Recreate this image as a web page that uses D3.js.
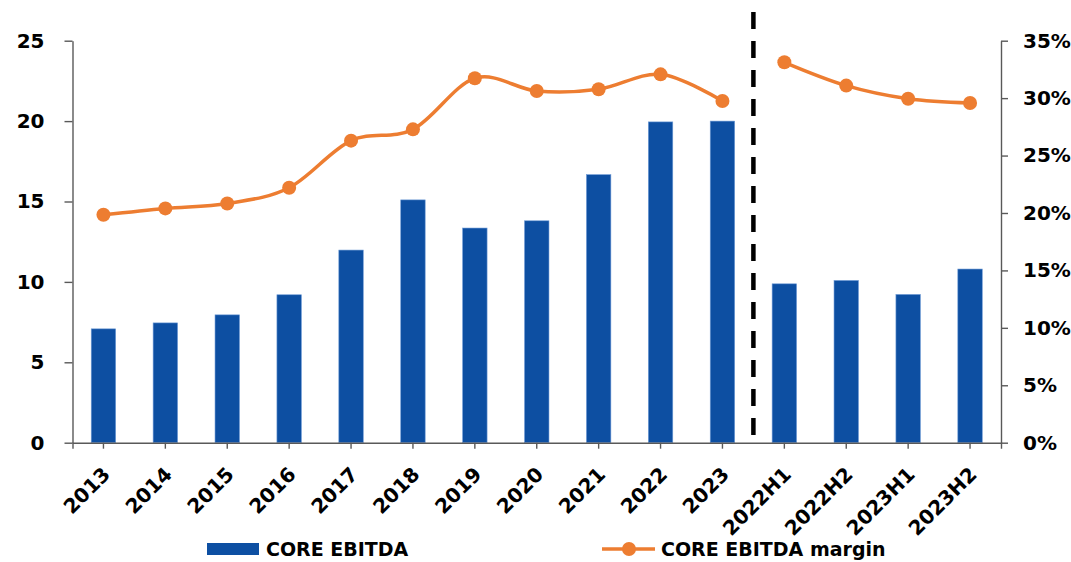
<!DOCTYPE html>
<html>
<head>
<meta charset="utf-8">
<script src="https://cdn.jsdelivr.net/npm/d3@7"></script>
<style>
  html, body { margin: 0; padding: 0; background: #fff; }
  svg { display: block; }
  text { font-family: "DejaVu Sans", sans-serif; font-weight: bold; fill: #000; }
</style>
</head>
<body>
<svg id="chart" width="1071" height="562"></svg>
<script>
// Periods: annual figures followed by half-year figures
const categories = ["2013", "2014", "2015", "2016", "2017", "2018", "2019", "2020",
  "2021", "2022", "2023", "2022H1", "2022H2", "2023H1", "2023H2"];
const annualCount = 11;

// Core EBITDA (left axis)
const coreEbitda = [7.08, 7.45, 7.95, 9.2, 11.98, 15.1, 13.35, 13.8,
  16.67, 19.95, 20.0, 9.88, 10.09, 9.22, 10.8];

// Core EBITDA margin, % (right axis)
const coreEbitdaMargin = [19.84, 20.4, 20.83, 22.2, 26.3, 27.28, 31.73, 30.62,
  30.77, 32.07, 29.75, 33.12, 31.09, 29.95, 29.58];

const leftTicks = [0, 5, 10, 15, 20, 25];
const rightTicks = [0, 5, 10, 15, 20, 25, 30, 35];
const legendLabels = ["CORE EBITDA", "CORE EBITDA margin"];

const barColor = "#0D4FA2";
const lineColor = "#ED7D31";
const axisColor = "#595959";

const svg = d3.select("#chart");
const plot = { left: 72.5, right: 1001, top: 40.7, bottom: 442.7 };

const x = d3.scaleBand()
  .domain(categories)
  .range([plot.left, plot.right])
  .paddingInner(0.605)
  .paddingOuter(0.3025);

const yLeft = d3.scaleLinear().domain([0, 25]).range([plot.bottom, plot.top]);
const yRight = d3.scaleLinear().domain([0, 35]).range([plot.bottom, plot.top]);

const cx = c => x(c) + x.bandwidth() / 2;

// Bars
svg.append("g")
  .selectAll("rect")
  .data(categories)
  .join("rect")
  .attr("x", c => x(c))
  .attr("y", (c, i) => yLeft(coreEbitda[i]))
  .attr("width", x.bandwidth())
  .attr("height", (c, i) => yLeft(0) - yLeft(coreEbitda[i]))
  .attr("fill", barColor)
  .attr("stroke", "#6f9bd6")
  .attr("stroke-width", 0.6);

// Axes
function styleAxis(g, size) {
  g.selectAll(".domain, .tick line").attr("stroke", axisColor).attr("stroke-width", 1.4);
  g.selectAll(".tick text")
    .attr("font-size", size)
    .attr("fill", "#000")
    .attr("font-family", "DejaVu Sans")
    .attr("font-weight", "bold");
}

svg.append("g")
  .attr("transform", `translate(${plot.left},0)`)
  .call(d3.axisLeft(yLeft).tickValues(leftTicks).tickSize(8).tickSizeOuter(0).tickPadding(20))
  .call(g => styleAxis(g, 20));

svg.append("g")
  .attr("transform", `translate(${plot.right},0)`)
  .call(d3.axisRight(yRight).tickValues(rightTicks).tickSize(7).tickSizeOuter(0).tickPadding(15)
    .tickFormat(d => d + "%"))
  .call(g => styleAxis(g, 20));

// Category labels, rotated and anchored at their end just below each tick
svg.append("g")
  .attr("transform", `translate(0,${plot.bottom})`)
  .call(d3.axisBottom(x).tickSize(6).tickSizeOuter(6).tickPadding(6))
  .call(g => styleAxis(g, 20))
  .call(g => g.selectAll(".tick text")
    .attr("y", 0)
    .attr("text-anchor", "end")
    .attr("dy", "0.35em")
    .attr("transform", "translate(3,28) rotate(-45)"));

// Divider between annual and half-year periods
const divX = (cx(categories[annualCount - 1]) + cx(categories[annualCount])) / 2;
svg.append("line")
  .attr("x1", divX).attr("x2", divX)
  .attr("y1", 12).attr("y2", plot.bottom)
  .attr("stroke", "#000")
  .attr("stroke-width", 4.5)
  .attr("stroke-dasharray", "17,12");

// Margin line, drawn separately for annual and half-year points
const pts = categories.map((c, i) => ({ c, v: coreEbitdaMargin[i] }));
const line = d3.line()
  .x(d => cx(d.c))
  .y(d => yRight(d.v))
  .curve(d3.curveCardinal.tension(0));

const segments = [pts.slice(0, annualCount), pts.slice(annualCount)];
svg.append("g")
  .selectAll("path")
  .data(segments)
  .join("path")
  .attr("d", line)
  .attr("fill", "none")
  .attr("stroke", lineColor)
  .attr("stroke-width", 3.5);

svg.append("g")
  .selectAll("circle")
  .data(pts)
  .join("circle")
  .attr("cx", d => cx(d.c))
  .attr("cy", d => yRight(d.v))
  .attr("r", 7)
  .attr("fill", lineColor);

// Legend
const legend = svg.append("g");
legend.append("rect")
  .attr("x", 207).attr("y", 543).attr("width", 52).attr("height", 12)
  .attr("fill", barColor);
legend.append("text")
  .attr("x", 266).attr("y", 549).attr("dy", "0.35em")
  .attr("font-size", 19)
  .text(legendLabels[0]);

legend.append("line")
  .attr("x1", 602).attr("x2", 655).attr("y1", 549).attr("y2", 549)
  .attr("stroke", lineColor).attr("stroke-width", 3.5);
legend.append("circle")
  .attr("cx", 629).attr("cy", 549).attr("r", 7)
  .attr("fill", lineColor);
legend.append("text")
  .attr("x", 661).attr("y", 549).attr("dy", "0.35em")
  .attr("font-size", 19)
  .text(legendLabels[1]);
</script>
</body>
</html>
